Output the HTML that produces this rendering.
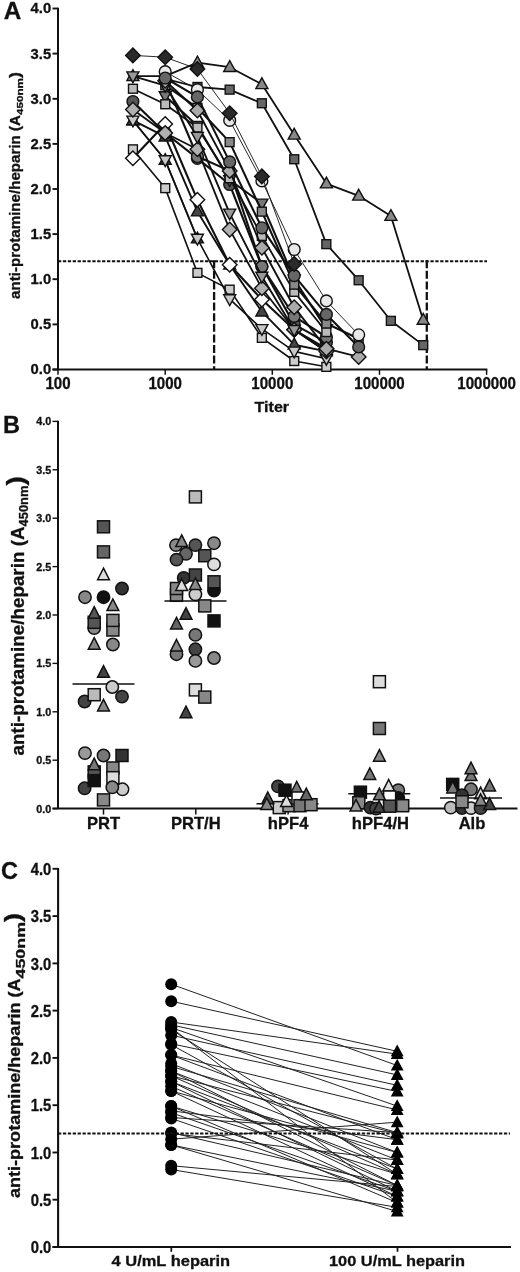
<!DOCTYPE html>
<html><head><meta charset="utf-8"><title>Figure</title>
<style>
html,body{margin:0;padding:0;background:#fff;}
svg{display:block;font-family:"Liberation Sans", sans-serif;filter:blur(0.35px);}
text{font-family:"Liberation Sans", sans-serif;fill:#111;stroke:#111;stroke-width:0.3px;}
</style></head><body>
<svg width="520" height="1272" viewBox="0 0 520 1272">
<rect width="520" height="1272" fill="#fff"/>
<g id="panelA">
<text x="3.8" y="19.4" font-size="24.3" font-weight="bold">A</text>
<path d="M58,7.7 V369.5 M52.5,369.5 H487.3" stroke="#111" stroke-width="2" fill="none"/>
<line x1="52.5" x2="58" y1="369.5" y2="369.5" stroke="#111" stroke-width="1.9"/>
<text x="51.2" y="374.4" font-size="14.8" font-weight="bold" text-anchor="end">0.0</text>
<line x1="52.5" x2="58" y1="324.4" y2="324.4" stroke="#111" stroke-width="1.9"/>
<text x="51.2" y="329.3" font-size="14.8" font-weight="bold" text-anchor="end">0.5</text>
<line x1="52.5" x2="58" y1="279.2" y2="279.2" stroke="#111" stroke-width="1.9"/>
<text x="51.2" y="284.1" font-size="14.8" font-weight="bold" text-anchor="end">1.0</text>
<line x1="52.5" x2="58" y1="234.1" y2="234.1" stroke="#111" stroke-width="1.9"/>
<text x="51.2" y="239.0" font-size="14.8" font-weight="bold" text-anchor="end">1.5</text>
<line x1="52.5" x2="58" y1="189.0" y2="189.0" stroke="#111" stroke-width="1.9"/>
<text x="51.2" y="193.9" font-size="14.8" font-weight="bold" text-anchor="end">2.0</text>
<line x1="52.5" x2="58" y1="143.9" y2="143.9" stroke="#111" stroke-width="1.9"/>
<text x="51.2" y="148.8" font-size="14.8" font-weight="bold" text-anchor="end">2.5</text>
<line x1="52.5" x2="58" y1="98.8" y2="98.8" stroke="#111" stroke-width="1.9"/>
<text x="51.2" y="103.7" font-size="14.8" font-weight="bold" text-anchor="end">3.0</text>
<line x1="52.5" x2="58" y1="53.6" y2="53.6" stroke="#111" stroke-width="1.9"/>
<text x="51.2" y="58.5" font-size="14.8" font-weight="bold" text-anchor="end">3.5</text>
<line x1="52.5" x2="58" y1="8.5" y2="8.5" stroke="#111" stroke-width="1.9"/>
<text x="51.2" y="13.4" font-size="14.8" font-weight="bold" text-anchor="end">4.0</text>
<line x1="58.0" x2="58.0" y1="369.5" y2="374.8" stroke="#111" stroke-width="1.5"/>
<text transform="translate(58.0,389.0) scale(1,1.08)" font-size="15.1" font-weight="bold" text-anchor="middle">100</text>
<line x1="165.2" x2="165.2" y1="369.5" y2="374.8" stroke="#111" stroke-width="1.5"/>
<text transform="translate(165.2,389.0) scale(1,1.08)" font-size="15.1" font-weight="bold" text-anchor="middle">1000</text>
<line x1="272.3" x2="272.3" y1="369.5" y2="374.8" stroke="#111" stroke-width="1.5"/>
<text transform="translate(272.3,389.0) scale(1,1.08)" font-size="15.1" font-weight="bold" text-anchor="middle">10000</text>
<line x1="379.5" x2="379.5" y1="369.5" y2="374.8" stroke="#111" stroke-width="1.5"/>
<text transform="translate(379.5,389.0) scale(1,1.08)" font-size="15.1" font-weight="bold" text-anchor="middle">100000</text>
<line x1="486.6" x2="486.6" y1="369.5" y2="374.8" stroke="#111" stroke-width="1.5"/>
<text transform="translate(486.6,389.0) scale(1,1.08)" font-size="15.1" font-weight="bold" text-anchor="middle">1000000</text>
<text x="254.6" y="411.5" font-size="15" font-weight="bold" textLength="34.5" lengthAdjust="spacingAndGlyphs">Titer</text>
<text transform="translate(19.6,299) rotate(-90)" font-size="14.6" font-weight="bold"><tspan textLength="184" lengthAdjust="spacingAndGlyphs">anti-protamine/heparin (A</tspan><tspan font-size="9.5" dy="3.4" textLength="37" lengthAdjust="spacingAndGlyphs">450nm</tspan><tspan font-size="15" dy="-3.4" textLength="6" lengthAdjust="spacingAndGlyphs">)</tspan></text>
<line x1="58" x2="487" y1="261.2" y2="261.2" stroke="#111" stroke-width="2" stroke-dasharray="3.3 1.6"/>
<line x1="214.1" x2="214.1" y1="260.2" y2="369.5" stroke="#111" stroke-width="2.3" stroke-dasharray="8 2.6"/>
<line x1="426.8" x2="426.8" y1="260.2" y2="369.5" stroke="#111" stroke-width="2.3" stroke-dasharray="8 2.6"/>
<polyline points="132.9,149.3 165.2,188.1 197.4,272.9 229.7,289.6 261.9,337.9 294.2,361.0 326.4,366.8" fill="none" stroke="#111" stroke-width="1.6" stroke-linejoin="round"/>
<rect x="128.5" y="144.9" width="8.9" height="8.9" fill="#cccccc" stroke="#111" stroke-width="1.4"/>
<rect x="160.8" y="183.7" width="8.9" height="8.9" fill="#cccccc" stroke="#111" stroke-width="1.4"/>
<rect x="193.0" y="268.4" width="8.9" height="8.9" fill="#cccccc" stroke="#111" stroke-width="1.4"/>
<rect x="225.2" y="285.2" width="8.9" height="8.9" fill="#cccccc" stroke="#111" stroke-width="1.4"/>
<rect x="257.4" y="333.4" width="8.9" height="8.9" fill="#cccccc" stroke="#111" stroke-width="1.4"/>
<rect x="289.8" y="356.6" width="8.9" height="8.9" fill="#cccccc" stroke="#111" stroke-width="1.4"/>
<rect x="321.9" y="362.4" width="8.9" height="8.9" fill="#cccccc" stroke="#111" stroke-width="1.4"/>
<polyline points="132.9,120.4 165.2,160.1 197.4,238.6" fill="none" stroke="#111" stroke-width="1.6" stroke-linejoin="round"/>
<polygon points="132.9,113.9 138.9,124.7 126.9,124.7" fill="#3a3a3a" stroke="#111" stroke-width="1.4" stroke-linejoin="miter"/>
<polygon points="165.2,153.6 171.2,164.4 159.2,164.4" fill="#3a3a3a" stroke="#111" stroke-width="1.4" stroke-linejoin="miter"/>
<polygon points="197.4,232.1 203.4,242.9 191.4,242.9" fill="#3a3a3a" stroke="#111" stroke-width="1.4" stroke-linejoin="miter"/>
<polyline points="132.9,120.4 165.2,136.7 197.4,211.6 229.7,264.8 261.9,311.7 294.2,344.7 326.4,351.4" fill="none" stroke="#111" stroke-width="1.9" stroke-linejoin="round"/>
<polygon points="132.9,113.9 138.9,124.7 126.9,124.7" fill="#444444" stroke="#111" stroke-width="1.4" stroke-linejoin="miter"/>
<polygon points="165.2,130.2 171.2,141.0 159.2,141.0" fill="#444444" stroke="#111" stroke-width="1.4" stroke-linejoin="miter"/>
<polygon points="197.4,205.1 203.4,215.9 191.4,215.9" fill="#444444" stroke="#111" stroke-width="1.4" stroke-linejoin="miter"/>
<polygon points="229.7,258.3 235.7,269.1 223.7,269.1" fill="#444444" stroke="#111" stroke-width="1.4" stroke-linejoin="miter"/>
<polygon points="261.9,305.2 267.9,316.0 255.9,316.0" fill="#444444" stroke="#111" stroke-width="1.4" stroke-linejoin="miter"/>
<polygon points="294.2,338.2 300.2,349.0 288.2,349.0" fill="#444444" stroke="#111" stroke-width="1.4" stroke-linejoin="miter"/>
<polygon points="326.4,344.9 332.4,355.7 320.4,355.7" fill="#444444" stroke="#111" stroke-width="1.4" stroke-linejoin="miter"/>
<polyline points="132.9,120.4 165.2,160.1 197.4,238.6 229.7,299.1 261.9,328.9 294.2,351.4 326.4,358.7" fill="none" stroke="#111" stroke-width="1.6" stroke-linejoin="round"/>
<polygon points="132.9,126.9 138.9,116.1 126.9,116.1" fill="#c8c8c8" stroke="#111" stroke-width="1.4"/>
<polygon points="165.2,166.6 171.2,155.8 159.2,155.8" fill="#c8c8c8" stroke="#111" stroke-width="1.4"/>
<polygon points="197.4,245.1 203.4,234.3 191.4,234.3" fill="#c8c8c8" stroke="#111" stroke-width="1.4"/>
<polygon points="229.7,305.6 235.7,294.8 223.7,294.8" fill="#c8c8c8" stroke="#111" stroke-width="1.4"/>
<polygon points="261.9,335.4 267.9,324.6 255.9,324.6" fill="#c8c8c8" stroke="#111" stroke-width="1.4"/>
<polygon points="294.2,357.9 300.2,347.1 288.2,347.1" fill="#c8c8c8" stroke="#111" stroke-width="1.4"/>
<polygon points="326.4,365.2 332.4,354.4 320.4,354.4" fill="#c8c8c8" stroke="#111" stroke-width="1.4"/>
<polyline points="132.9,158.3 165.2,124.0 197.4,199.8 229.7,264.8 261.9,299.6 294.2,329.8 326.4,348.7" fill="none" stroke="#111" stroke-width="2.1" stroke-linejoin="round"/>
<polygon points="132.9,151.0 140.2,158.3 132.9,165.6 125.6,158.3" fill="#ffffff" stroke="#111" stroke-width="1.4"/>
<polygon points="165.2,116.7 172.5,124.0 165.2,131.3 157.9,124.0" fill="#ffffff" stroke="#111" stroke-width="1.4"/>
<polygon points="197.4,192.5 204.7,199.8 197.4,207.1 190.1,199.8" fill="#ffffff" stroke="#111" stroke-width="1.4"/>
<polygon points="229.7,257.5 237.0,264.8 229.7,272.1 222.4,264.8" fill="#ffffff" stroke="#111" stroke-width="1.4"/>
<polygon points="261.9,292.3 269.2,299.6 261.9,306.9 254.6,299.6" fill="#ffffff" stroke="#111" stroke-width="1.4"/>
<polygon points="294.2,322.5 301.5,329.8 294.2,337.1 286.9,329.8" fill="#ffffff" stroke="#111" stroke-width="1.4"/>
<polygon points="326.4,341.4 333.7,348.7 326.4,356.0 319.1,348.7" fill="#ffffff" stroke="#111" stroke-width="1.4"/>
<polyline points="132.9,101.5 165.2,133.0 197.4,158.3 229.7,184.5 261.9,266.6 294.2,324.4 326.4,342.4" fill="none" stroke="#111" stroke-width="2.1" stroke-linejoin="round"/>
<circle cx="132.9" cy="101.5" r="5.9" fill="#555555" stroke="#111" stroke-width="1.4"/>
<circle cx="165.2" cy="133.0" r="5.9" fill="#555555" stroke="#111" stroke-width="1.4"/>
<circle cx="197.4" cy="158.3" r="5.9" fill="#555555" stroke="#111" stroke-width="1.4"/>
<circle cx="229.7" cy="184.5" r="5.9" fill="#555555" stroke="#111" stroke-width="1.4"/>
<circle cx="261.9" cy="266.6" r="5.9" fill="#555555" stroke="#111" stroke-width="1.4"/>
<circle cx="294.2" cy="324.4" r="5.9" fill="#555555" stroke="#111" stroke-width="1.4"/>
<circle cx="326.4" cy="342.4" r="5.9" fill="#555555" stroke="#111" stroke-width="1.4"/>
<polyline points="165.2,80.7 197.4,156.5 229.7,170.9 261.9,266.6 294.2,316.3 326.4,337.0" fill="none" stroke="#111" stroke-width="2.1" stroke-linejoin="round"/>
<circle cx="165.2" cy="80.7" r="5.9" fill="#777777" stroke="#111" stroke-width="1.4"/>
<circle cx="197.4" cy="156.5" r="5.9" fill="#777777" stroke="#111" stroke-width="1.4"/>
<circle cx="229.7" cy="170.9" r="5.9" fill="#777777" stroke="#111" stroke-width="1.4"/>
<circle cx="261.9" cy="266.6" r="5.9" fill="#777777" stroke="#111" stroke-width="1.4"/>
<circle cx="294.2" cy="316.3" r="5.9" fill="#777777" stroke="#111" stroke-width="1.4"/>
<circle cx="326.4" cy="337.0" r="5.9" fill="#777777" stroke="#111" stroke-width="1.4"/>
<polyline points="132.9,109.6 165.2,133.0 197.4,149.3 229.7,229.6 261.9,288.3 294.2,329.8 326.4,351.4" fill="none" stroke="#111" stroke-width="1.8" stroke-linejoin="round"/>
<polygon points="132.9,102.3 140.2,109.6 132.9,116.9 125.6,109.6" fill="#b0b0b0" stroke="#111" stroke-width="1.4"/>
<polygon points="165.2,125.7 172.5,133.0 165.2,140.3 157.9,133.0" fill="#b0b0b0" stroke="#111" stroke-width="1.4"/>
<polygon points="197.4,142.0 204.7,149.3 197.4,156.6 190.1,149.3" fill="#b0b0b0" stroke="#111" stroke-width="1.4"/>
<polygon points="229.7,222.3 237.0,229.6 229.7,236.9 222.4,229.6" fill="#b0b0b0" stroke="#111" stroke-width="1.4"/>
<polygon points="261.9,281.0 269.2,288.3 261.9,295.6 254.6,288.3" fill="#b0b0b0" stroke="#111" stroke-width="1.4"/>
<polygon points="294.2,322.5 301.5,329.8 294.2,337.1 286.9,329.8" fill="#b0b0b0" stroke="#111" stroke-width="1.4"/>
<polygon points="326.4,344.1 333.7,351.4 326.4,358.7 319.1,351.4" fill="#b0b0b0" stroke="#111" stroke-width="1.4"/>
<polyline points="165.2,96.0 197.4,125.8 229.7,180.0 261.9,203.4 294.2,279.2 326.4,328.9" fill="none" stroke="#111" stroke-width="2.1" stroke-linejoin="round"/>
<polygon points="165.2,102.5 171.2,91.7 159.2,91.7" fill="#777777" stroke="#111" stroke-width="1.4"/>
<polygon points="197.4,132.3 203.4,121.5 191.4,121.5" fill="#777777" stroke="#111" stroke-width="1.4"/>
<polygon points="229.7,186.5 235.7,175.7 223.7,175.7" fill="#777777" stroke="#111" stroke-width="1.4"/>
<polygon points="261.9,209.9 267.9,199.1 255.9,199.1" fill="#777777" stroke="#111" stroke-width="1.4"/>
<polygon points="294.2,285.7 300.2,274.9 288.2,274.9" fill="#777777" stroke="#111" stroke-width="1.4"/>
<polygon points="326.4,335.4 332.4,324.6 320.4,324.6" fill="#777777" stroke="#111" stroke-width="1.4"/>
<polyline points="132.9,88.8 165.2,104.2 197.4,127.6 229.7,178.2 261.9,235.9 294.2,291.9 326.4,332.0" fill="none" stroke="#111" stroke-width="1.8" stroke-linejoin="round"/>
<rect x="128.5" y="84.3" width="8.9" height="8.9" fill="#bbbbbb" stroke="#111" stroke-width="1.4"/>
<rect x="160.8" y="99.8" width="8.9" height="8.9" fill="#bbbbbb" stroke="#111" stroke-width="1.4"/>
<rect x="193.0" y="123.1" width="8.9" height="8.9" fill="#bbbbbb" stroke="#111" stroke-width="1.4"/>
<rect x="225.2" y="173.8" width="8.9" height="8.9" fill="#bbbbbb" stroke="#111" stroke-width="1.4"/>
<rect x="257.4" y="231.5" width="8.9" height="8.9" fill="#bbbbbb" stroke="#111" stroke-width="1.4"/>
<rect x="289.8" y="287.4" width="8.9" height="8.9" fill="#bbbbbb" stroke="#111" stroke-width="1.4"/>
<rect x="321.9" y="327.6" width="8.9" height="8.9" fill="#bbbbbb" stroke="#111" stroke-width="1.4"/>
<polyline points="165.2,85.2 197.4,107.8 229.7,142.1 261.9,211.6 294.2,284.7 326.4,323.5 358.7,338.8" fill="none" stroke="#111" stroke-width="2.1" stroke-linejoin="round"/>
<rect x="160.8" y="80.8" width="8.9" height="8.9" fill="#888888" stroke="#111" stroke-width="1.4"/>
<rect x="193.0" y="103.3" width="8.9" height="8.9" fill="#888888" stroke="#111" stroke-width="1.4"/>
<rect x="225.2" y="137.7" width="8.9" height="8.9" fill="#888888" stroke="#111" stroke-width="1.4"/>
<rect x="257.4" y="207.2" width="8.9" height="8.9" fill="#888888" stroke="#111" stroke-width="1.4"/>
<rect x="289.8" y="280.2" width="8.9" height="8.9" fill="#888888" stroke="#111" stroke-width="1.4"/>
<rect x="321.9" y="319.1" width="8.9" height="8.9" fill="#888888" stroke="#111" stroke-width="1.4"/>
<rect x="354.2" y="334.4" width="8.9" height="8.9" fill="#888888" stroke="#111" stroke-width="1.4"/>
<polyline points="132.9,76.2 165.2,76.2 197.4,62.7 229.7,67.2 261.9,84.3 294.2,134.8 326.4,183.6 358.7,195.8 390.9,216.1 423.2,319.9" fill="none" stroke="#111" stroke-width="1.8" stroke-linejoin="round"/>
<polygon points="132.9,69.7 138.9,80.5 126.9,80.5" fill="#888888" stroke="#111" stroke-width="1.4" stroke-linejoin="miter"/>
<polygon points="165.2,69.7 171.2,80.5 159.2,80.5" fill="#888888" stroke="#111" stroke-width="1.4" stroke-linejoin="miter"/>
<polygon points="197.4,56.2 203.4,67.0 191.4,67.0" fill="#888888" stroke="#111" stroke-width="1.4" stroke-linejoin="miter"/>
<polygon points="229.7,60.7 235.7,71.5 223.7,71.5" fill="#888888" stroke="#111" stroke-width="1.4" stroke-linejoin="miter"/>
<polygon points="261.9,77.8 267.9,88.6 255.9,88.6" fill="#888888" stroke="#111" stroke-width="1.4" stroke-linejoin="miter"/>
<polygon points="294.2,128.3 300.2,139.1 288.2,139.1" fill="#888888" stroke="#111" stroke-width="1.4" stroke-linejoin="miter"/>
<polygon points="326.4,177.1 332.4,187.9 320.4,187.9" fill="#888888" stroke="#111" stroke-width="1.4" stroke-linejoin="miter"/>
<polygon points="358.7,189.3 364.7,200.1 352.7,200.1" fill="#888888" stroke="#111" stroke-width="1.4" stroke-linejoin="miter"/>
<polygon points="390.9,209.6 396.9,220.4 384.9,220.4" fill="#888888" stroke="#111" stroke-width="1.4" stroke-linejoin="miter"/>
<polygon points="423.2,313.4 429.2,324.2 417.2,324.2" fill="#888888" stroke="#111" stroke-width="1.4" stroke-linejoin="miter"/>
<polyline points="132.9,76.2 165.2,85.7 197.4,136.7 229.7,213.4 261.9,276.5 294.2,329.8 326.4,351.4" fill="none" stroke="#111" stroke-width="1.9" stroke-linejoin="round"/>
<polygon points="132.9,82.7 138.9,71.9 126.9,71.9" fill="#999999" stroke="#111" stroke-width="1.4"/>
<polygon points="165.2,92.2 171.2,81.4 159.2,81.4" fill="#999999" stroke="#111" stroke-width="1.4"/>
<polygon points="197.4,143.2 203.4,132.4 191.4,132.4" fill="#999999" stroke="#111" stroke-width="1.4"/>
<polygon points="229.7,219.9 235.7,209.1 223.7,209.1" fill="#999999" stroke="#111" stroke-width="1.4"/>
<polygon points="261.9,283.0 267.9,272.2 255.9,272.2" fill="#999999" stroke="#111" stroke-width="1.4"/>
<polygon points="294.2,336.3 300.2,325.5 288.2,325.5" fill="#999999" stroke="#111" stroke-width="1.4"/>
<polygon points="326.4,357.9 332.4,347.1 320.4,347.1" fill="#999999" stroke="#111" stroke-width="1.4"/>
<polyline points="165.2,80.7 197.4,110.5 229.7,170.9 261.9,247.7 294.2,307.2 326.4,348.7 358.7,356.9" fill="none" stroke="#111" stroke-width="1.9" stroke-linejoin="round"/>
<polygon points="165.2,73.4 172.5,80.7 165.2,88.0 157.9,80.7" fill="#aaaaaa" stroke="#111" stroke-width="1.4"/>
<polygon points="197.4,103.2 204.7,110.5 197.4,117.8 190.1,110.5" fill="#aaaaaa" stroke="#111" stroke-width="1.4"/>
<polygon points="229.7,163.6 237.0,170.9 229.7,178.2 222.4,170.9" fill="#aaaaaa" stroke="#111" stroke-width="1.4"/>
<polygon points="261.9,240.4 269.2,247.7 261.9,255.0 254.6,247.7" fill="#aaaaaa" stroke="#111" stroke-width="1.4"/>
<polygon points="294.2,299.9 301.5,307.2 294.2,314.5 286.9,307.2" fill="#aaaaaa" stroke="#111" stroke-width="1.4"/>
<polygon points="326.4,341.4 333.7,348.7 326.4,356.0 319.1,348.7" fill="#aaaaaa" stroke="#111" stroke-width="1.4"/>
<polygon points="358.7,349.6 366.0,356.9 358.7,364.2 351.4,356.9" fill="#aaaaaa" stroke="#111" stroke-width="1.4"/>
<polyline points="165.2,78.9 197.4,87.0 229.7,89.7 261.9,103.3 294.2,159.2 326.4,244.1 358.7,280.2 390.9,320.8 423.2,345.1" fill="none" stroke="#111" stroke-width="1.8" stroke-linejoin="round"/>
<rect x="160.8" y="74.5" width="8.9" height="8.9" fill="#666666" stroke="#111" stroke-width="1.4"/>
<rect x="193.0" y="82.5" width="8.9" height="8.9" fill="#666666" stroke="#111" stroke-width="1.4"/>
<rect x="225.2" y="85.2" width="8.9" height="8.9" fill="#666666" stroke="#111" stroke-width="1.4"/>
<rect x="257.4" y="98.8" width="8.9" height="8.9" fill="#666666" stroke="#111" stroke-width="1.4"/>
<rect x="289.8" y="154.8" width="8.9" height="8.9" fill="#666666" stroke="#111" stroke-width="1.4"/>
<rect x="321.9" y="239.7" width="8.9" height="8.9" fill="#666666" stroke="#111" stroke-width="1.4"/>
<rect x="354.2" y="275.8" width="8.9" height="8.9" fill="#666666" stroke="#111" stroke-width="1.4"/>
<rect x="386.4" y="316.4" width="8.9" height="8.9" fill="#666666" stroke="#111" stroke-width="1.4"/>
<rect x="418.8" y="340.7" width="8.9" height="8.9" fill="#666666" stroke="#111" stroke-width="1.4"/>
<polyline points="165.2,71.7 197.4,89.7 229.7,120.4 261.9,180.9 294.2,249.5 326.4,300.9 358.7,334.8" fill="none" stroke="#111" stroke-width="0.9" stroke-linejoin="round"/>
<circle cx="165.2" cy="71.7" r="5.9" fill="#e8e8e8" stroke="#111" stroke-width="1.4"/>
<circle cx="197.4" cy="89.7" r="5.9" fill="#e8e8e8" stroke="#111" stroke-width="1.4"/>
<circle cx="229.7" cy="120.4" r="5.9" fill="#e8e8e8" stroke="#111" stroke-width="1.4"/>
<circle cx="261.9" cy="180.9" r="5.9" fill="#e8e8e8" stroke="#111" stroke-width="1.4"/>
<circle cx="294.2" cy="249.5" r="5.9" fill="#e8e8e8" stroke="#111" stroke-width="1.4"/>
<circle cx="326.4" cy="300.9" r="5.9" fill="#e8e8e8" stroke="#111" stroke-width="1.4"/>
<circle cx="358.7" cy="334.8" r="5.9" fill="#e8e8e8" stroke="#111" stroke-width="1.4"/>
<polyline points="165.2,78.0 197.4,96.9 229.7,161.9 261.9,227.8 294.2,275.6 326.4,314.4 358.7,346.9" fill="none" stroke="#111" stroke-width="2.1" stroke-linejoin="round"/>
<circle cx="165.2" cy="78.0" r="5.9" fill="#666666" stroke="#111" stroke-width="1.4"/>
<circle cx="197.4" cy="96.9" r="5.9" fill="#666666" stroke="#111" stroke-width="1.4"/>
<circle cx="229.7" cy="161.9" r="5.9" fill="#666666" stroke="#111" stroke-width="1.4"/>
<circle cx="261.9" cy="227.8" r="5.9" fill="#666666" stroke="#111" stroke-width="1.4"/>
<circle cx="294.2" cy="275.6" r="5.9" fill="#666666" stroke="#111" stroke-width="1.4"/>
<circle cx="326.4" cy="314.4" r="5.9" fill="#666666" stroke="#111" stroke-width="1.4"/>
<circle cx="358.7" cy="346.9" r="5.9" fill="#666666" stroke="#111" stroke-width="1.4"/>
<polyline points="132.9,55.4 165.2,57.2 197.4,69.0 229.7,113.2 261.9,176.4 294.2,263.9" fill="none" stroke="#111" stroke-width="0.9" stroke-linejoin="round"/>
<polygon points="132.9,48.1 140.2,55.4 132.9,62.7 125.6,55.4" fill="#2a2a2a" stroke="#111" stroke-width="1.4"/>
<polygon points="165.2,49.9 172.5,57.2 165.2,64.5 157.9,57.2" fill="#2a2a2a" stroke="#111" stroke-width="1.4"/>
<polygon points="197.4,61.7 204.7,69.0 197.4,76.3 190.1,69.0" fill="#2a2a2a" stroke="#111" stroke-width="1.4"/>
<polygon points="229.7,105.9 237.0,113.2 229.7,120.5 222.4,113.2" fill="#2a2a2a" stroke="#111" stroke-width="1.4"/>
<polygon points="261.9,169.1 269.2,176.4 261.9,183.7 254.6,176.4" fill="#2a2a2a" stroke="#111" stroke-width="1.4"/>
<polygon points="294.2,256.6 301.5,263.9 294.2,271.2 286.9,263.9" fill="#2a2a2a" stroke="#111" stroke-width="1.4"/>
</g>
<g id="panelB">
<text x="3" y="432.8" font-size="23.5" font-weight="bold">B</text>
<path d="M58,420.7 V808.6 M52.5,808.6 H517.5" stroke="#111" stroke-width="2" fill="none"/>
<line x1="52.5" x2="58" y1="808.6" y2="808.6" stroke="#111" stroke-width="1.4"/>
<text x="51.3" y="812.6" font-size="10.8" font-weight="bold" text-anchor="end">0.0</text>
<line x1="52.5" x2="58" y1="760.2" y2="760.2" stroke="#111" stroke-width="1.4"/>
<text x="51.3" y="764.2" font-size="10.8" font-weight="bold" text-anchor="end">0.5</text>
<line x1="52.5" x2="58" y1="711.8" y2="711.8" stroke="#111" stroke-width="1.4"/>
<text x="51.3" y="715.8" font-size="10.8" font-weight="bold" text-anchor="end">1.0</text>
<line x1="52.5" x2="58" y1="663.4" y2="663.4" stroke="#111" stroke-width="1.4"/>
<text x="51.3" y="667.4" font-size="10.8" font-weight="bold" text-anchor="end">1.5</text>
<line x1="52.5" x2="58" y1="615.0" y2="615.0" stroke="#111" stroke-width="1.4"/>
<text x="51.3" y="619.0" font-size="10.8" font-weight="bold" text-anchor="end">2.0</text>
<line x1="52.5" x2="58" y1="566.6" y2="566.6" stroke="#111" stroke-width="1.4"/>
<text x="51.3" y="570.6" font-size="10.8" font-weight="bold" text-anchor="end">2.5</text>
<line x1="52.5" x2="58" y1="518.2" y2="518.2" stroke="#111" stroke-width="1.4"/>
<text x="51.3" y="522.2" font-size="10.8" font-weight="bold" text-anchor="end">3.0</text>
<line x1="52.5" x2="58" y1="469.8" y2="469.8" stroke="#111" stroke-width="1.4"/>
<text x="51.3" y="473.8" font-size="10.8" font-weight="bold" text-anchor="end">3.5</text>
<line x1="52.5" x2="58" y1="421.4" y2="421.4" stroke="#111" stroke-width="1.4"/>
<text x="51.3" y="425.4" font-size="10.8" font-weight="bold" text-anchor="end">4.0</text>
<line x1="103.5" x2="103.5" y1="808.6" y2="814.6" stroke="#111" stroke-width="1.5"/>
<text x="103.5" y="828.8" font-size="16.6" font-weight="bold" text-anchor="middle">PRT</text>
<line x1="195.8" x2="195.8" y1="808.6" y2="814.6" stroke="#111" stroke-width="1.5"/>
<text x="195.8" y="828.8" font-size="16.6" font-weight="bold" text-anchor="middle">PRT/H</text>
<line x1="288.1" x2="288.1" y1="808.6" y2="814.6" stroke="#111" stroke-width="1.5"/>
<text x="288.1" y="828.8" font-size="16.6" font-weight="bold" text-anchor="middle">hPF4</text>
<line x1="380.4" x2="380.4" y1="808.6" y2="814.6" stroke="#111" stroke-width="1.5"/>
<text x="380.4" y="828.8" font-size="16.6" font-weight="bold" text-anchor="middle">hPF4/H</text>
<line x1="472.0" x2="472.0" y1="808.6" y2="814.6" stroke="#111" stroke-width="1.5"/>
<text x="472.0" y="828.8" font-size="16.6" font-weight="bold" text-anchor="middle">Alb</text>
<text transform="translate(23.6,755.5) rotate(-90)" font-size="18.3" font-weight="bold"><tspan textLength="229" lengthAdjust="spacingAndGlyphs">anti-protamine/heparin (A</tspan><tspan font-size="12" dy="4.0" textLength="41" lengthAdjust="spacingAndGlyphs">450nm</tspan><tspan font-size="23" dy="-4.0" textLength="9.5" lengthAdjust="spacingAndGlyphs">)</tspan></text>
<rect x="97.5" y="520.8" width="12.0" height="12.0" fill="#555" stroke="#111" stroke-width="1.5"/>
<rect x="97.5" y="545.9" width="12.0" height="12.0" fill="#666" stroke="#111" stroke-width="1.5"/>
<polygon points="103.5,568.1 109.4,579.7 97.6,579.7" fill="#ddd" stroke="#111" stroke-width="1.5"/>
<circle cx="122.0" cy="588.5" r="6.2" fill="#333" stroke="#111" stroke-width="1.5"/>
<circle cx="85.0" cy="597.2" r="6.2" fill="#888" stroke="#111" stroke-width="1.5"/>
<circle cx="103.5" cy="597.2" r="6.2" fill="#111" stroke="#111" stroke-width="1.5"/>
<polygon points="112.9,599.0 118.8,610.6 107.0,610.6" fill="#888" stroke="#111" stroke-width="1.5"/>
<circle cx="94.2" cy="628.1" r="6.2" fill="#888" stroke="#111" stroke-width="1.5"/>
<rect x="88.2" y="616.3" width="12.0" height="12.0" fill="#555" stroke="#111" stroke-width="1.5"/>
<polygon points="94.2,606.7 100.1,618.3 88.3,618.3" fill="#555" stroke="#111" stroke-width="1.5"/>
<rect x="106.9" y="624.0" width="12.0" height="12.0" fill="#888" stroke="#111" stroke-width="1.5"/>
<rect x="106.9" y="614.4" width="12.0" height="12.0" fill="#888" stroke="#111" stroke-width="1.5"/>
<polygon points="94.2,637.6 100.1,649.2 88.3,649.2" fill="#888" stroke="#111" stroke-width="1.5"/>
<circle cx="112.9" cy="644.5" r="6.2" fill="#888" stroke="#111" stroke-width="1.5"/>
<polygon points="103.5,665.6 109.4,677.2 97.6,677.2" fill="#444" stroke="#111" stroke-width="1.5"/>
<line x1="72.5" x2="134.5" y1="684.1" y2="684.1" stroke="#111" stroke-width="1.5"/>
<circle cx="84.6" cy="701.5" r="6.2" fill="#444" stroke="#111" stroke-width="1.5"/>
<circle cx="122.0" cy="696.6" r="6.2" fill="#444" stroke="#111" stroke-width="1.5"/>
<rect x="88.2" y="688.7" width="12.0" height="12.0" fill="#bbb" stroke="#111" stroke-width="1.5"/>
<circle cx="112.3" cy="687.0" r="6.2" fill="#ccc" stroke="#111" stroke-width="1.5"/>
<polygon points="103.5,699.4 109.4,711.0 97.6,711.0" fill="#888" stroke="#111" stroke-width="1.5"/>
<circle cx="85.0" cy="753.1" r="6.2" fill="#999" stroke="#111" stroke-width="1.5"/>
<circle cx="103.5" cy="755.5" r="6.2" fill="#777" stroke="#111" stroke-width="1.5"/>
<rect x="116.0" y="749.5" width="12.0" height="12.0" fill="#333" stroke="#111" stroke-width="1.5"/>
<rect x="106.9" y="762.0" width="12.0" height="12.0" fill="#888" stroke="#111" stroke-width="1.5"/>
<rect x="106.9" y="771.7" width="12.0" height="12.0" fill="#ddd" stroke="#111" stroke-width="1.5"/>
<rect x="88.2" y="765.9" width="12.0" height="12.0" fill="#555" stroke="#111" stroke-width="1.5"/>
<polygon points="94.2,758.2 100.1,769.8 88.3,769.8" fill="#777" stroke="#111" stroke-width="1.5"/>
<circle cx="84.6" cy="788.3" r="6.2" fill="#444" stroke="#111" stroke-width="1.5"/>
<rect x="88.2" y="774.6" width="12.0" height="12.0" fill="#111" stroke="#111" stroke-width="1.5"/>
<circle cx="122.5" cy="789.3" r="6.2" fill="#ccc" stroke="#111" stroke-width="1.5"/>
<circle cx="112.3" cy="787.3" r="6.2" fill="#888" stroke="#111" stroke-width="1.5"/>
<rect x="97.5" y="793.9" width="12.0" height="12.0" fill="#888" stroke="#111" stroke-width="1.5"/>
<rect x="189.4" y="490.9" width="12.0" height="12.0" fill="#bbb" stroke="#111" stroke-width="1.5"/>
<circle cx="176.0" cy="545.1" r="6.2" fill="#888" stroke="#111" stroke-width="1.5"/>
<polygon points="181.7,534.8 187.6,546.4 175.8,546.4" fill="#888" stroke="#111" stroke-width="1.5"/>
<circle cx="195.4" cy="545.1" r="6.2" fill="#555" stroke="#111" stroke-width="1.5"/>
<circle cx="214.0" cy="543.2" r="6.2" fill="#888" stroke="#111" stroke-width="1.5"/>
<circle cx="186.0" cy="553.8" r="6.2" fill="#666" stroke="#111" stroke-width="1.5"/>
<circle cx="176.5" cy="559.6" r="6.2" fill="#555" stroke="#111" stroke-width="1.5"/>
<rect x="198.8" y="549.7" width="12.0" height="12.0" fill="#555" stroke="#111" stroke-width="1.5"/>
<circle cx="214.0" cy="564.4" r="6.2" fill="#ddd" stroke="#111" stroke-width="1.5"/>
<circle cx="183.7" cy="577.9" r="6.2" fill="#333" stroke="#111" stroke-width="1.5"/>
<rect x="189.4" y="569.0" width="12.0" height="12.0" fill="#444" stroke="#111" stroke-width="1.5"/>
<circle cx="214.0" cy="590.5" r="6.2" fill="#111" stroke="#111" stroke-width="1.5"/>
<rect x="208.0" y="575.8" width="12.0" height="12.0" fill="#555" stroke="#111" stroke-width="1.5"/>
<rect x="170.5" y="589.3" width="12.0" height="12.0" fill="#888" stroke="#111" stroke-width="1.5"/>
<rect x="170.5" y="582.5" width="12.0" height="12.0" fill="#888" stroke="#111" stroke-width="1.5"/>
<polygon points="181.7,578.8 187.6,590.4 175.8,590.4" fill="#ddd" stroke="#111" stroke-width="1.5"/>
<circle cx="195.4" cy="594.3" r="6.2" fill="#ccc" stroke="#111" stroke-width="1.5"/>
<polygon points="195.4,577.8 201.3,589.4 189.5,589.4" fill="#888" stroke="#111" stroke-width="1.5"/>
<line x1="164.5" x2="226.5" y1="601.1" y2="601.1" stroke="#111" stroke-width="1.5"/>
<rect x="198.8" y="599.9" width="12.0" height="12.0" fill="#888" stroke="#111" stroke-width="1.5"/>
<polygon points="186.0,607.7 191.9,619.3 180.1,619.3" fill="#444" stroke="#111" stroke-width="1.5"/>
<rect x="208.0" y="614.9" width="12.0" height="12.0" fill="#111" stroke="#111" stroke-width="1.5"/>
<polygon points="176.5,617.4 182.4,629.0 170.6,629.0" fill="#666" stroke="#111" stroke-width="1.5"/>
<circle cx="195.4" cy="634.9" r="6.2" fill="#777" stroke="#111" stroke-width="1.5"/>
<circle cx="176.5" cy="654.2" r="6.2" fill="#777" stroke="#111" stroke-width="1.5"/>
<polygon points="176.5,639.5 182.4,651.1 170.6,651.1" fill="#888" stroke="#111" stroke-width="1.5"/>
<circle cx="195.4" cy="649.3" r="6.2" fill="#444" stroke="#111" stroke-width="1.5"/>
<circle cx="214.0" cy="658.0" r="6.2" fill="#888" stroke="#111" stroke-width="1.5"/>
<circle cx="195.4" cy="660.9" r="6.2" fill="#999" stroke="#111" stroke-width="1.5"/>
<rect x="189.4" y="683.9" width="12.0" height="12.0" fill="#ddd" stroke="#111" stroke-width="1.5"/>
<rect x="198.8" y="691.1" width="12.0" height="12.0" fill="#888" stroke="#111" stroke-width="1.5"/>
<polygon points="186.0,706.1 191.9,717.7 180.1,717.7" fill="#444" stroke="#111" stroke-width="1.5"/>
<line x1="256.5" x2="318.5" y1="803.7" y2="803.7" stroke="#111" stroke-width="1.5"/>
<circle cx="278.0" cy="786.4" r="6.2" fill="#444" stroke="#111" stroke-width="1.5"/>
<rect x="279.0" y="784.2" width="12.0" height="12.0" fill="#111" stroke="#111" stroke-width="1.5"/>
<polygon points="296.7,781.4 302.6,793.0 290.8,793.0" fill="#777" stroke="#111" stroke-width="1.5"/>
<rect x="273.3" y="801.6" width="12.0" height="12.0" fill="#ccc" stroke="#111" stroke-width="1.5"/>
<rect x="283.0" y="799.7" width="12.0" height="12.0" fill="#999" stroke="#111" stroke-width="1.5"/>
<rect x="292.0" y="792.0" width="12.0" height="12.0" fill="#fff" stroke="#111" stroke-width="1.5"/>
<rect x="294.0" y="799.7" width="12.0" height="12.0" fill="#777" stroke="#111" stroke-width="1.5"/>
<rect x="305.0" y="798.7" width="12.0" height="12.0" fill="#888" stroke="#111" stroke-width="1.5"/>
<polygon points="306.3,788.2 312.2,799.8 300.4,799.8" fill="#666" stroke="#111" stroke-width="1.5"/>
<polygon points="267.8,792.0 273.7,803.6 261.9,803.6" fill="#555" stroke="#111" stroke-width="1.5"/>
<polygon points="266.8,797.8 272.7,809.4 260.9,809.4" fill="#888" stroke="#111" stroke-width="1.5"/>
<polygon points="286.5,794.9 292.4,806.5 280.6,806.5" fill="#ddd" stroke="#111" stroke-width="1.5"/>
<rect x="373.4" y="675.7" width="12.0" height="12.0" fill="#ddd" stroke="#111" stroke-width="1.5"/>
<rect x="373.4" y="722.5" width="12.0" height="12.0" fill="#777" stroke="#111" stroke-width="1.5"/>
<polygon points="379.4,749.6 385.3,761.2 373.5,761.2" fill="#888" stroke="#111" stroke-width="1.5"/>
<polygon points="369.8,767.9 375.7,779.5 363.9,779.5" fill="#777" stroke="#111" stroke-width="1.5"/>
<circle cx="398.3" cy="790.2" r="6.2" fill="#777" stroke="#111" stroke-width="1.5"/>
<polygon points="388.7,779.5 394.6,791.1 382.8,791.1" fill="#ddd" stroke="#111" stroke-width="1.5"/>
<rect x="354.4" y="786.2" width="12.0" height="12.0" fill="#111" stroke="#111" stroke-width="1.5"/>
<circle cx="398.3" cy="798.0" r="6.2" fill="#111" stroke="#111" stroke-width="1.5"/>
<line x1="348.3" x2="410.3" y1="793.8" y2="793.8" stroke="#111" stroke-width="1.5"/>
<rect x="352.8" y="796.8" width="12.0" height="12.0" fill="#888" stroke="#111" stroke-width="1.5"/>
<circle cx="370.4" cy="807.6" r="6.2" fill="#333" stroke="#111" stroke-width="1.5"/>
<circle cx="376.0" cy="808.6" r="6.2" fill="#444" stroke="#111" stroke-width="1.5"/>
<rect x="383.6" y="791.0" width="12.0" height="12.0" fill="#fff" stroke="#111" stroke-width="1.5"/>
<rect x="383.6" y="800.2" width="12.0" height="12.0" fill="#555" stroke="#111" stroke-width="1.5"/>
<polygon points="379.4,788.2 385.3,799.8 373.5,799.8" fill="#777" stroke="#111" stroke-width="1.5"/>
<polygon points="356.0,799.3 361.9,810.9 350.1,810.9" fill="#999" stroke="#111" stroke-width="1.5"/>
<rect x="396.7" y="799.7" width="12.0" height="12.0" fill="#888" stroke="#111" stroke-width="1.5"/>
<polygon points="379.0,800.7 384.9,812.3 373.1,812.3" fill="#444" stroke="#111" stroke-width="1.5"/>
<polygon points="471.0,768.9 476.9,780.5 465.1,780.5" fill="#777" stroke="#111" stroke-width="1.5"/>
<polygon points="471.0,762.1 476.9,773.7 465.1,773.7" fill="#777" stroke="#111" stroke-width="1.5"/>
<rect x="446.7" y="778.4" width="12.0" height="12.0" fill="#111" stroke="#111" stroke-width="1.5"/>
<polygon points="452.7,781.4 458.6,793.0 446.8,793.0" fill="#777" stroke="#111" stroke-width="1.5"/>
<polygon points="489.6,779.5 495.5,791.1 483.7,791.1" fill="#777" stroke="#111" stroke-width="1.5"/>
<circle cx="471.0" cy="789.3" r="6.2" fill="#777" stroke="#111" stroke-width="1.5"/>
<circle cx="462.0" cy="795.1" r="6.2" fill="#333" stroke="#111" stroke-width="1.5"/>
<polygon points="480.6,787.2 486.5,798.8 474.7,798.8" fill="#ddd" stroke="#111" stroke-width="1.5"/>
<line x1="440" x2="502" y1="798.0" y2="798.0" stroke="#111" stroke-width="1.5"/>
<circle cx="450.8" cy="807.6" r="6.2" fill="#bbb" stroke="#111" stroke-width="1.5"/>
<circle cx="462.0" cy="808.1" r="6.2" fill="#333" stroke="#111" stroke-width="1.5"/>
<circle cx="471.0" cy="808.1" r="6.2" fill="#ccc" stroke="#111" stroke-width="1.5"/>
<circle cx="480.6" cy="808.1" r="6.2" fill="#444" stroke="#111" stroke-width="1.5"/>
<rect x="456.0" y="795.8" width="12.0" height="12.0" fill="#888" stroke="#111" stroke-width="1.5"/>
<polygon points="489.6,797.8 495.5,809.4 483.7,809.4" fill="#444" stroke="#111" stroke-width="1.5"/>
<polygon points="480.6,793.9 486.5,805.5 474.7,805.5" fill="#888" stroke="#111" stroke-width="1.5"/>
</g>
<g id="panelC">
<text x="1" y="879" font-size="23.5" font-weight="bold">C</text>
<path d="M58.1,868.0 V1247.0 M52.5,1247.0 H511" stroke="#111" stroke-width="2.1" fill="none"/>
<line x1="52.5" x2="58" y1="1247.0" y2="1247.0" stroke="#111" stroke-width="1.9"/>
<text transform="translate(51.3,1253.1) scale(1,1.13)" font-size="14.8" font-weight="bold" text-anchor="end">0.0</text>
<line x1="52.5" x2="58" y1="1199.7" y2="1199.7" stroke="#111" stroke-width="1.9"/>
<text transform="translate(51.3,1205.8) scale(1,1.13)" font-size="14.8" font-weight="bold" text-anchor="end">0.5</text>
<line x1="52.5" x2="58" y1="1152.5" y2="1152.5" stroke="#111" stroke-width="1.9"/>
<text transform="translate(51.3,1158.5) scale(1,1.13)" font-size="14.8" font-weight="bold" text-anchor="end">1.0</text>
<line x1="52.5" x2="58" y1="1105.2" y2="1105.2" stroke="#111" stroke-width="1.9"/>
<text transform="translate(51.3,1111.3) scale(1,1.13)" font-size="14.8" font-weight="bold" text-anchor="end">1.5</text>
<line x1="52.5" x2="58" y1="1057.9" y2="1057.9" stroke="#111" stroke-width="1.9"/>
<text transform="translate(51.3,1064.0) scale(1,1.13)" font-size="14.8" font-weight="bold" text-anchor="end">2.0</text>
<line x1="52.5" x2="58" y1="1010.6" y2="1010.6" stroke="#111" stroke-width="1.9"/>
<text transform="translate(51.3,1016.7) scale(1,1.13)" font-size="14.8" font-weight="bold" text-anchor="end">2.5</text>
<line x1="52.5" x2="58" y1="963.4" y2="963.4" stroke="#111" stroke-width="1.9"/>
<text transform="translate(51.3,969.5) scale(1,1.13)" font-size="14.8" font-weight="bold" text-anchor="end">3.0</text>
<line x1="52.5" x2="58" y1="916.1" y2="916.1" stroke="#111" stroke-width="1.9"/>
<text transform="translate(51.3,922.2) scale(1,1.13)" font-size="14.8" font-weight="bold" text-anchor="end">3.5</text>
<line x1="52.5" x2="58" y1="868.8" y2="868.8" stroke="#111" stroke-width="1.9"/>
<text transform="translate(51.3,874.9) scale(1,1.13)" font-size="14.8" font-weight="bold" text-anchor="end">4.0</text>
<line x1="171.3" x2="171.3" y1="1247.0" y2="1251.8" stroke="#111" stroke-width="1.7"/>
<text x="111.6" y="1265.8" font-size="15" font-weight="bold" textLength="118.5" lengthAdjust="spacingAndGlyphs">4 U/mL heparin</text>
<line x1="397.5" x2="397.5" y1="1247.0" y2="1251.8" stroke="#111" stroke-width="1.7"/>
<text x="329.0" y="1265.8" font-size="15" font-weight="bold" textLength="136" lengthAdjust="spacingAndGlyphs">100 U/mL heparin</text>
<text transform="translate(19.8,1198) rotate(-90)" font-size="16" font-weight="bold"><tspan textLength="219.5" lengthAdjust="spacingAndGlyphs">anti-protamine/heparin (A</tspan><tspan font-size="13.7" dy="5.4" textLength="56.5" lengthAdjust="spacingAndGlyphs">450nm</tspan><tspan font-size="22" dy="-5.4" textLength="9" lengthAdjust="spacingAndGlyphs">)</tspan></text>
<line x1="171.2" y1="984.2" x2="397.2" y2="1065.5" stroke="#222" stroke-width="1"/>
<line x1="171.2" y1="1001.2" x2="397.2" y2="1051.3" stroke="#222" stroke-width="1"/>
<line x1="171.2" y1="1022.0" x2="397.2" y2="1054.1" stroke="#222" stroke-width="1"/>
<line x1="171.2" y1="1024.8" x2="397.2" y2="1074.9" stroke="#222" stroke-width="1"/>
<line x1="171.2" y1="1027.6" x2="397.2" y2="1106.1" stroke="#222" stroke-width="1"/>
<line x1="171.2" y1="1027.6" x2="397.2" y2="1202.6" stroke="#222" stroke-width="1"/>
<line x1="171.2" y1="1029.5" x2="397.2" y2="1174.2" stroke="#222" stroke-width="1"/>
<line x1="171.2" y1="1035.2" x2="397.2" y2="1085.3" stroke="#222" stroke-width="1"/>
<line x1="171.2" y1="1043.7" x2="397.2" y2="1091.5" stroke="#222" stroke-width="1"/>
<line x1="171.2" y1="1044.7" x2="397.2" y2="1169.0" stroke="#222" stroke-width="1"/>
<line x1="171.2" y1="1055.1" x2="397.2" y2="1109.9" stroke="#222" stroke-width="1"/>
<line x1="171.2" y1="1055.1" x2="397.2" y2="1139.7" stroke="#222" stroke-width="1"/>
<line x1="171.2" y1="1063.6" x2="397.2" y2="1152.5" stroke="#222" stroke-width="1"/>
<line x1="171.2" y1="1066.4" x2="397.2" y2="1132.6" stroke="#222" stroke-width="1"/>
<line x1="171.2" y1="1071.1" x2="397.2" y2="1160.0" stroke="#222" stroke-width="1"/>
<line x1="171.2" y1="1071.1" x2="397.2" y2="1185.5" stroke="#222" stroke-width="1"/>
<line x1="171.2" y1="1075.9" x2="397.2" y2="1133.5" stroke="#222" stroke-width="1"/>
<line x1="171.2" y1="1075.9" x2="397.2" y2="1174.2" stroke="#222" stroke-width="1"/>
<line x1="171.2" y1="1081.5" x2="397.2" y2="1169.0" stroke="#222" stroke-width="1"/>
<line x1="171.2" y1="1081.5" x2="397.2" y2="1191.2" stroke="#222" stroke-width="1"/>
<line x1="171.2" y1="1086.3" x2="397.2" y2="1185.5" stroke="#222" stroke-width="1"/>
<line x1="171.2" y1="1091.0" x2="397.2" y2="1152.5" stroke="#222" stroke-width="1"/>
<line x1="171.2" y1="1091.0" x2="397.2" y2="1196.4" stroke="#222" stroke-width="1"/>
<line x1="171.2" y1="1106.1" x2="397.2" y2="1174.2" stroke="#222" stroke-width="1"/>
<line x1="171.2" y1="1106.1" x2="397.2" y2="1202.6" stroke="#222" stroke-width="1"/>
<line x1="171.2" y1="1110.8" x2="397.2" y2="1139.7" stroke="#222" stroke-width="1"/>
<line x1="171.2" y1="1112.7" x2="397.2" y2="1191.2" stroke="#222" stroke-width="1"/>
<line x1="171.2" y1="1117.5" x2="397.2" y2="1132.6" stroke="#222" stroke-width="1"/>
<line x1="171.2" y1="1118.4" x2="397.2" y2="1196.4" stroke="#222" stroke-width="1"/>
<line x1="171.2" y1="1132.6" x2="397.2" y2="1185.5" stroke="#222" stroke-width="1"/>
<line x1="171.2" y1="1133.5" x2="397.2" y2="1160.0" stroke="#222" stroke-width="1"/>
<line x1="171.2" y1="1139.2" x2="397.2" y2="1122.2" stroke="#222" stroke-width="1"/>
<line x1="171.2" y1="1144.9" x2="397.2" y2="1191.2" stroke="#222" stroke-width="1"/>
<line x1="171.2" y1="1144.9" x2="397.2" y2="1211.5" stroke="#222" stroke-width="1"/>
<line x1="171.2" y1="1165.7" x2="397.2" y2="1186.5" stroke="#222" stroke-width="1"/>
<line x1="171.2" y1="1169.5" x2="397.2" y2="1207.3" stroke="#222" stroke-width="1"/>
<circle cx="171.2" cy="984.2" r="6" fill="#000"/>
<polygon points="397.2,1058.7 403.59999999999997,1070.5 390.8,1070.5" fill="#000"/>
<circle cx="171.2" cy="1001.2" r="6" fill="#000"/>
<polygon points="397.2,1044.5 403.59999999999997,1056.3 390.8,1056.3" fill="#000"/>
<circle cx="171.2" cy="1022.0" r="6" fill="#000"/>
<polygon points="397.2,1047.3 403.59999999999997,1059.1 390.8,1059.1" fill="#000"/>
<circle cx="171.2" cy="1024.8" r="6" fill="#000"/>
<polygon points="397.2,1068.1 403.59999999999997,1079.9 390.8,1079.9" fill="#000"/>
<circle cx="171.2" cy="1027.6" r="6" fill="#000"/>
<polygon points="397.2,1099.3 403.59999999999997,1111.1 390.8,1111.1" fill="#000"/>
<circle cx="171.2" cy="1027.6" r="6" fill="#000"/>
<polygon points="397.2,1195.8 403.59999999999997,1207.6 390.8,1207.6" fill="#000"/>
<circle cx="171.2" cy="1029.5" r="6" fill="#000"/>
<polygon points="397.2,1167.4 403.59999999999997,1179.2 390.8,1179.2" fill="#000"/>
<circle cx="171.2" cy="1035.2" r="6" fill="#000"/>
<polygon points="397.2,1078.5 403.59999999999997,1090.3 390.8,1090.3" fill="#000"/>
<circle cx="171.2" cy="1043.7" r="6" fill="#000"/>
<polygon points="397.2,1084.7 403.59999999999997,1096.5 390.8,1096.5" fill="#000"/>
<circle cx="171.2" cy="1044.7" r="6" fill="#000"/>
<polygon points="397.2,1162.2 403.59999999999997,1174.0 390.8,1174.0" fill="#000"/>
<circle cx="171.2" cy="1055.1" r="6" fill="#000"/>
<polygon points="397.2,1103.1 403.59999999999997,1114.9 390.8,1114.9" fill="#000"/>
<circle cx="171.2" cy="1055.1" r="6" fill="#000"/>
<polygon points="397.2,1132.9 403.59999999999997,1144.7 390.8,1144.7" fill="#000"/>
<circle cx="171.2" cy="1063.6" r="6" fill="#000"/>
<polygon points="397.2,1145.7 403.59999999999997,1157.5 390.8,1157.5" fill="#000"/>
<circle cx="171.2" cy="1066.4" r="6" fill="#000"/>
<polygon points="397.2,1125.8 403.59999999999997,1137.6 390.8,1137.6" fill="#000"/>
<circle cx="171.2" cy="1071.1" r="6" fill="#000"/>
<polygon points="397.2,1153.2 403.59999999999997,1165.0 390.8,1165.0" fill="#000"/>
<circle cx="171.2" cy="1071.1" r="6" fill="#000"/>
<polygon points="397.2,1178.7 403.59999999999997,1190.5 390.8,1190.5" fill="#000"/>
<circle cx="171.2" cy="1075.9" r="6" fill="#000"/>
<polygon points="397.2,1126.7 403.59999999999997,1138.5 390.8,1138.5" fill="#000"/>
<circle cx="171.2" cy="1075.9" r="6" fill="#000"/>
<polygon points="397.2,1167.4 403.59999999999997,1179.2 390.8,1179.2" fill="#000"/>
<circle cx="171.2" cy="1081.5" r="6" fill="#000"/>
<polygon points="397.2,1162.2 403.59999999999997,1174.0 390.8,1174.0" fill="#000"/>
<circle cx="171.2" cy="1081.5" r="6" fill="#000"/>
<polygon points="397.2,1184.4 403.59999999999997,1196.2 390.8,1196.2" fill="#000"/>
<circle cx="171.2" cy="1086.3" r="6" fill="#000"/>
<polygon points="397.2,1178.7 403.59999999999997,1190.5 390.8,1190.5" fill="#000"/>
<circle cx="171.2" cy="1091.0" r="6" fill="#000"/>
<polygon points="397.2,1145.7 403.59999999999997,1157.5 390.8,1157.5" fill="#000"/>
<circle cx="171.2" cy="1091.0" r="6" fill="#000"/>
<polygon points="397.2,1189.6 403.59999999999997,1201.4 390.8,1201.4" fill="#000"/>
<circle cx="171.2" cy="1106.1" r="6" fill="#000"/>
<polygon points="397.2,1167.4 403.59999999999997,1179.2 390.8,1179.2" fill="#000"/>
<circle cx="171.2" cy="1106.1" r="6" fill="#000"/>
<polygon points="397.2,1195.8 403.59999999999997,1207.6 390.8,1207.6" fill="#000"/>
<circle cx="171.2" cy="1110.8" r="6" fill="#000"/>
<polygon points="397.2,1132.9 403.59999999999997,1144.7 390.8,1144.7" fill="#000"/>
<circle cx="171.2" cy="1112.7" r="6" fill="#000"/>
<polygon points="397.2,1184.4 403.59999999999997,1196.2 390.8,1196.2" fill="#000"/>
<circle cx="171.2" cy="1117.5" r="6" fill="#000"/>
<polygon points="397.2,1125.8 403.59999999999997,1137.6 390.8,1137.6" fill="#000"/>
<circle cx="171.2" cy="1118.4" r="6" fill="#000"/>
<polygon points="397.2,1189.6 403.59999999999997,1201.4 390.8,1201.4" fill="#000"/>
<circle cx="171.2" cy="1132.6" r="6" fill="#000"/>
<polygon points="397.2,1178.7 403.59999999999997,1190.5 390.8,1190.5" fill="#000"/>
<circle cx="171.2" cy="1133.5" r="6" fill="#000"/>
<polygon points="397.2,1153.2 403.59999999999997,1165.0 390.8,1165.0" fill="#000"/>
<circle cx="171.2" cy="1139.2" r="6" fill="#000"/>
<polygon points="397.2,1115.4 403.59999999999997,1127.2 390.8,1127.2" fill="#000"/>
<circle cx="171.2" cy="1144.9" r="6" fill="#000"/>
<polygon points="397.2,1184.4 403.59999999999997,1196.2 390.8,1196.2" fill="#000"/>
<circle cx="171.2" cy="1144.9" r="6" fill="#000"/>
<polygon points="397.2,1204.7 403.59999999999997,1216.5 390.8,1216.5" fill="#000"/>
<circle cx="171.2" cy="1165.7" r="6" fill="#000"/>
<polygon points="397.2,1179.7 403.59999999999997,1191.5 390.8,1191.5" fill="#000"/>
<circle cx="171.2" cy="1169.5" r="6" fill="#000"/>
<polygon points="397.2,1200.5 403.59999999999997,1212.3 390.8,1212.3" fill="#000"/>
<line x1="58" x2="510" y1="1133.5" y2="1133.5" stroke="#111" stroke-width="2" stroke-dasharray="3.3 1.6"/>
</g>
</svg></body></html>
